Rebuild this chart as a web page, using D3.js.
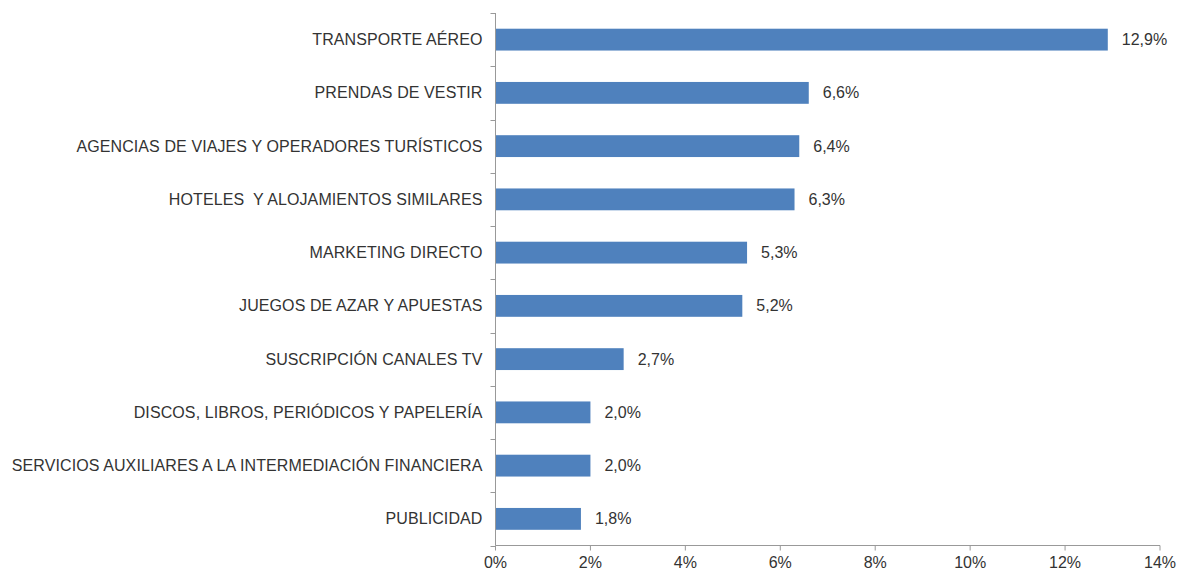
<!DOCTYPE html>
<html><head><meta charset="utf-8">
<script src="https://cdn.jsdelivr.net/npm/d3@7"></script>
<style>
body{margin:0;background:#fff;}
text{font-family:"Liberation Sans",Arial,sans-serif;}
</style></head>
<body>
<svg id="c" width="1186" height="572"></svg>
<script>
const categories = ["TRANSPORTE AÉREO","PRENDAS DE VESTIR","AGENCIAS DE VIAJES Y OPERADORES TURÍSTICOS","HOTELES  Y ALOJAMIENTOS SIMILARES","MARKETING DIRECTO","JUEGOS DE AZAR Y APUESTAS","SUSCRIPCIÓN CANALES TV","DISCOS, LIBROS, PERIÓDICOS Y PAPELERÍA","SERVICIOS AUXILIARES A LA INTERMEDIACIÓN FINANCIERA","PUBLICIDAD"];
const values = [12.9,6.6,6.4,6.3,5.3,5.2,2.7,2.0,2.0,1.8];
const valueLabels = ["12,9%","6,6%","6,4%","6,3%","5,3%","5,2%","2,7%","2,0%","2,0%","1,8%"];
const xTicks = [0,2,4,6,8,10,12,14];

(function(){
const svg = d3.select("#c");
const mL = 495.5, mR = 1160, mT = 13, mB = 545.5;
const x = d3.scaleLinear().domain([0,14]).range([mL,mR]);
const y = d3.scaleBand().domain(categories).range([mT,mB]).paddingInner(0.59).paddingOuter(0.295);

const axisColor = "#999";
svg.selectAll("rect.bar").data(values).enter().append("rect")
  .attr("x", x(0)).attr("y",(d,i)=>y(categories[i]))
  .attr("width", d=>x(d)-x(0)).attr("height", y.bandwidth())
  .attr("fill","#4F81BD");
svg.selectAll("text.val").data(values).enter().append("text")
  .attr("x", d=>x(d)+14).attr("y",(d,i)=>y(categories[i])+y.bandwidth()/2)
  .attr("dy","0.35em").attr("font-size",16).attr("fill","#333")
  .text((d,i)=>valueLabels[i]);

const step = (mB-mT)/categories.length;
svg.append("line").attr("x1",mL).attr("x2",mL).attr("y1",mT).attr("y2",mB).attr("stroke",axisColor);
for(let i=0;i<=categories.length;i++){
  const yy = Math.round(mT+i*step)+0.5;
  svg.append("line").attr("x1",mL-5).attr("x2",mL).attr("y1",yy).attr("y2",yy).attr("stroke",axisColor);
}
svg.selectAll("text.cat").data(categories).enter().append("text")
  .attr("x", mL-13).attr("y", d=>y(d)+y.bandwidth()/2).attr("dy","0.35em")
  .attr("text-anchor","end").attr("font-size",16).attr("fill","#333")
  .style("white-space","pre").attr("letter-spacing","0.1")
  .text(d=>d);

svg.append("line").attr("x1",mL).attr("x2",mR).attr("y1",mB).attr("y2",mB).attr("stroke",axisColor);
svg.selectAll("line.xt").data(xTicks).enter().append("line")
  .attr("x1",d=>x(d)).attr("x2",d=>x(d)).attr("y1",mB).attr("y2",mB+5).attr("stroke",axisColor);
svg.selectAll("text.xt").data(xTicks).enter().append("text")
  .attr("x",d=>x(d)).attr("y",568).attr("text-anchor","middle")
  .attr("font-size",16).attr("fill","#333").text(d=>d+"%");
})();
</script>
</body></html>
